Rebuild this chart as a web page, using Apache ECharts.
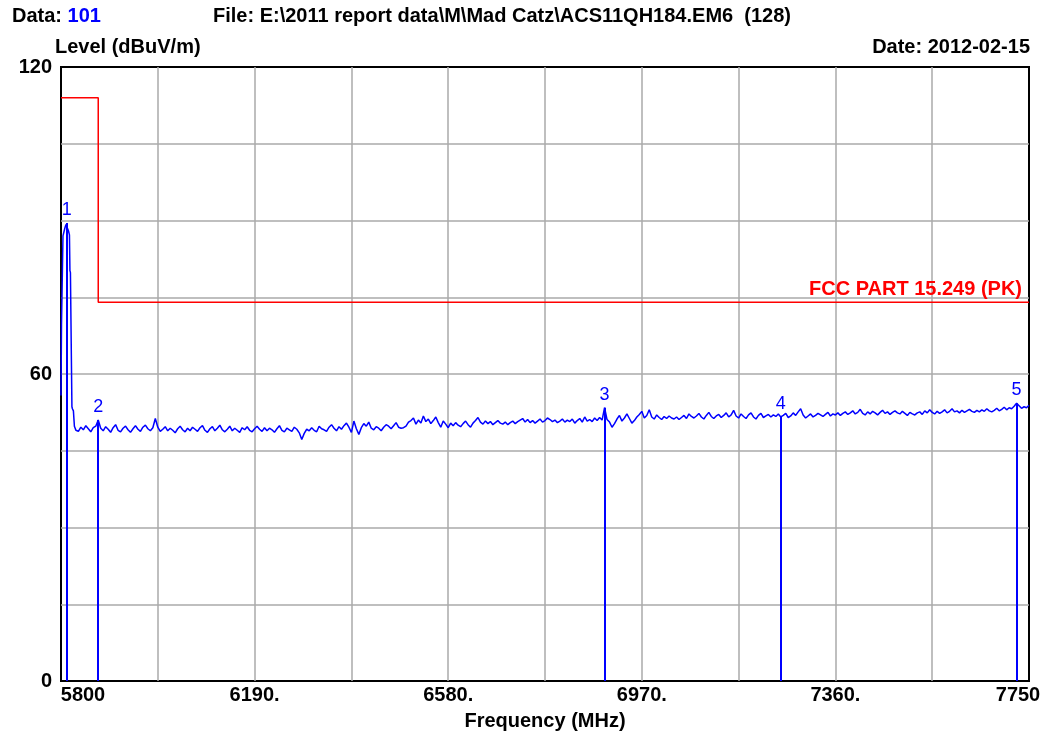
<!DOCTYPE html>
<html><head><meta charset="utf-8">
<script src="https://cdn.jsdelivr.net/npm/echarts/dist/echarts.min.js"></script>
<style>html,body{margin:0;padding:0;background:#fff}#c{width:1047px;height:736px}</style>
</head><body><div id="c"></div>
<script>
// ---- data ----
const peakFreq  = [5800, 5801, 5803, 5804, 5806, 5808, 5810, 5811.5, 5813, 5815, 5817, 5818, 5819, 5821, 5822, 5823, 5825, 5827];
const peakLevel = [55.8, 69.6, 69.8, 87.0, 87.8, 88.6, 89.2, 89.5, 89.0, 88.0, 87.2, 80.2, 79.8, 79.5, 53.6, 53.2, 52.8, 49.8];

const noiseStartMHz = 5830;
const noiseStepMHz = 5;
const noiseLevel = [
  49.0, 48.8, 49.6, 49.1, 49.9, 49.3, 48.7, 49.5, 49.8, 51.0,
  49.4, 48.9, 49.7, 49.2, 48.6, 49.5, 50.1, 49.0, 48.7, 49.4,
  49.8, 49.1, 48.6, 49.3, 49.9, 49.2, 48.8, 49.6, 50.0, 49.3,
  48.9, 49.5, 51.3, 49.6, 48.8, 49.2, 49.7, 48.9, 49.4, 49.0,
  48.5, 49.3, 49.8, 49.1, 48.7, 49.4, 48.9, 49.6, 49.2, 48.8,
  49.5, 49.9, 49.0, 48.6, 49.3, 49.7, 48.9, 49.4, 50.0, 49.1,
  48.7, 49.2, 49.8, 48.9, 49.4, 49.0, 48.6, 49.5, 49.1, 49.7,
  49.0, 48.7, 49.3, 49.8, 49.2, 48.8, 49.5, 48.9, 49.4, 49.1,
  48.6, 49.3, 49.9, 49.0, 48.7, 49.4, 49.1, 48.8, 49.6, 49.2,
  48.5, 47.2, 48.4, 49.2, 48.9, 49.5, 49.0, 48.7, 49.8, 49.3,
  49.1, 48.8, 49.6, 50.1, 49.4, 48.9, 49.7, 49.2, 49.9, 50.4,
  49.6, 48.6, 50.8, 49.3, 48.2, 49.5, 50.3, 49.8, 50.6, 49.4,
  49.1, 49.7, 49.4, 48.9, 49.6, 50.1, 49.8, 49.3, 49.9, 50.5,
  49.6, 49.4, 49.5, 49.8, 50.6, 50.9, 51.4, 50.2, 51.0, 50.4,
  51.8, 50.7, 51.2, 50.3, 50.9, 51.6, 50.5, 49.6, 50.8, 50.2,
  49.5, 50.4, 49.9, 50.5, 50.0, 49.7, 50.3, 50.8, 50.1, 49.6,
  50.4, 50.9, 51.5, 50.6, 50.2, 50.8, 50.3, 50.7, 50.1, 50.5,
  50.9, 50.4, 50.2, 50.6, 50.1, 50.5, 50.8, 50.3, 50.7, 51.0,
  51.3, 50.6, 51.1, 50.5, 50.9, 50.4, 50.8, 51.2, 50.6, 50.9,
  51.4, 51.1, 50.7, 51.0, 50.5, 50.8, 51.2, 50.6, 51.0, 50.7,
  51.2, 50.4, 50.9, 51.3, 50.6, 51.6, 50.8, 51.1, 50.7, 51.4,
  50.9, 51.5, 51.0, 53.4, 51.1, 50.6, 49.6, 50.3, 51.2, 51.9,
  50.8, 51.4, 52.2, 51.3, 50.4, 50.9, 51.6, 52.1, 52.7, 51.4,
  51.9, 53.0, 51.6, 51.2, 52.0, 51.5, 51.1, 51.7, 51.3, 51.8,
  51.4, 51.2, 51.6, 51.1, 51.5, 51.9, 51.3, 52.2, 51.7, 51.4,
  51.8, 52.3, 51.6, 51.2, 51.9, 52.5, 51.7, 51.3, 51.8, 52.1,
  51.5, 51.9, 52.4, 51.6, 52.0, 52.9, 51.8, 51.4, 52.2, 51.7,
  51.3, 52.0, 52.4, 51.6, 51.2, 51.9, 52.3, 51.5, 51.8, 52.1,
  51.6, 52.0, 51.7, 52.2, 51.6, 51.9, 52.3, 51.5, 51.8, 52.4,
  51.9, 52.6, 53.2, 52.0, 51.4, 51.8, 52.2, 51.6, 51.9, 52.3,
  52.0, 51.7, 52.1, 52.5, 51.8, 52.2, 52.0, 52.4, 51.9, 52.3,
  52.6, 52.1, 52.4, 52.8, 52.2, 52.5, 53.1, 52.3, 52.0, 52.6,
  52.2, 52.7, 52.4, 52.0, 52.5, 52.9, 52.3, 52.6, 52.1, 52.5,
  52.8, 52.4, 52.2, 52.7, 52.3, 51.9, 52.5, 52.2, 52.0, 52.4,
  52.6, 52.1, 52.8, 52.4, 53.0, 52.5, 52.2, 52.7, 52.3, 52.6,
  53.0, 52.4, 52.7, 53.2, 52.6, 52.8, 52.4, 52.9, 52.5, 52.8,
  53.1, 52.7, 52.5, 52.9, 52.6, 53.0, 52.7, 53.2, 52.8, 52.6,
  52.9, 53.3, 52.8, 53.1, 53.5, 53.0, 53.4, 53.2, 53.7, 54.3,
  53.8, 53.3, 53.6, 53.4, 53.9
];

const limitFreq  = [5800, 5875, 5875, 7750];
const limitLevel = [114, 114, 74, 74];
const limitName = 'FCC PART 15.249 (PK)';

const markerFreq  = [5811.5, 5875, 6895, 7250, 7725];
const markerLevel = [89.5, 51.0, 53.4, 51.6, 54.3];
const markerLabel = ['1', '2', '3', '4', '5'];

const xGridFreq   = [5800, 5995, 6190, 6385, 6580, 6775, 6970, 7165, 7360, 7555, 7750];
const xTickValues = [5800, 6190, 6580, 6970, 7360, 7750];
const xTickLabels = ['5800', '6190.', '6580.', '6970.', '7360.', '7750'];
const yTickValues = [0, 60, 120];

const xAxisName = 'Frequency (MHz)';
const yAxisName = 'Level (dBuV/m)';
const headerData = '101';
const headerFile = 'File: E:\\2011 report data\\M\\Mad Catz\\ACS11QH184.EM6  (128)';
const headerDate = 'Date: 2012-02-15';

// ---- build ----
const FONT = "'Liberation Sans', Arial, sans-serif";
const trace = [];
peakFreq.forEach((f, i) => trace.push([f, peakLevel[i]]));
noiseLevel.forEach((v, i) => trace.push([noiseStartMHz + i * noiseStepMHz, v]));
const limitData = limitFreq.map((f, i) => [f, limitLevel[i]]);

const chart = echarts.init(document.getElementById('c'), null, {renderer: 'canvas'});
const bold = {fontFamily: FONT, fontWeight: 'bold', fontSize: 20, color: '#000'};
chart.setOption({
  animation: false,
  backgroundColor: '#fff',
  title: [
    {text: '{a|Data: }{b|' + headerData + '}', left: 12, top: 6, padding: 0,
     textStyle: {rich: {a: Object.assign({}, bold), b: Object.assign({}, bold, {color: '#0000ff'})}}},
    {text: headerFile, left: 213, top: 6, padding: 0, textStyle: bold},
    {text: headerDate, right: 17, top: 37, padding: 0, textStyle: bold}
  ],
  grid: {left: 61, right: 18, top: 67, bottom: 55, show: true, borderColor: '#000', borderWidth: 2,
         backgroundColor: '#fff', outerBoundsMode: 'none'},
  xAxis: {
    type: 'value', min: 5800, max: 7750,
    axisLine: {show: false},
    axisTick: {show: false, customValues: xGridFreq},
    splitLine: {show: true, showMinLine: false, showMaxLine: false, lineStyle: {color: '#aaaaaa', width: 1.5}},
    axisLabel: {
      customValues: xTickValues, margin: 4,
      fontFamily: FONT, fontWeight: 'bold', fontSize: 20, color: '#000',
      formatter: function (v) {
        const i = xTickValues.indexOf(v);
        const t = i >= 0 ? xTickLabels[i] : '';
        if (i === 0) return '{first|' + t + '}';
        if (i === xTickValues.length - 1) return '{last|' + t + '}';
        return t;
      },
      rich: {
        first: Object.assign({}, bold, {padding: [0, 0, 0, 44]}),
        last: Object.assign({}, bold, {padding: [0, 22, 0, 0]})
      }
    },
    name: xAxisName, nameLocation: 'middle', nameGap: 30,
    nameTextStyle: bold
  },
  yAxis: {
    type: 'value', min: 0, max: 120, interval: 15,
    axisLine: {show: false}, axisTick: {show: false},
    splitLine: {show: true, showMinLine: false, showMaxLine: false, lineStyle: {color: '#aaaaaa', width: 1.5}},
    axisLabel: {customValues: yTickValues, margin: 9, fontFamily: FONT, fontWeight: 'bold', fontSize: 20, color: '#000'},
    name: yAxisName, nameLocation: 'end', nameGap: 8,
    nameTextStyle: Object.assign({}, bold, {align: 'left', padding: [0, 0, 0, -6]})
  },
  series: [
    {
      type: 'line', data: limitData, symbol: 'none', silent: true,
      lineStyle: {color: '#ff0000', width: 1.5}, z: 3,
      markPoint: {
        silent: true, symbol: 'rect', symbolSize: 0,
        data: [{coord: limitData[limitData.length - 1], value: limitName}],
        label: {show: true, position: [-7, -3], align: 'right', verticalAlign: 'bottom',
                formatter: limitName, fontFamily: FONT, fontWeight: 'bold', fontSize: 20, color: '#ff0000'}
      }
    },
    {
      type: 'line', data: trace, symbol: 'none', silent: true,
      lineStyle: {color: '#0000ff', width: 1.5}, z: 4,
      markLine: {
        silent: true, symbol: ['none', 'none'], animation: false,
        lineStyle: {color: '#0000ff', width: 2, type: 'solid'},
        label: {show: true, position: 'end', distance: 4, formatter: '{b}',
                fontFamily: FONT, fontSize: 18, color: '#0000ff'},
        data: markerFreq.map((f, i) => [
          {coord: [f, 0], name: markerLabel[i]},
          {coord: [f, markerLevel[i]]}
        ])
      }
    }
  ]
});
</script>
</body></html>
